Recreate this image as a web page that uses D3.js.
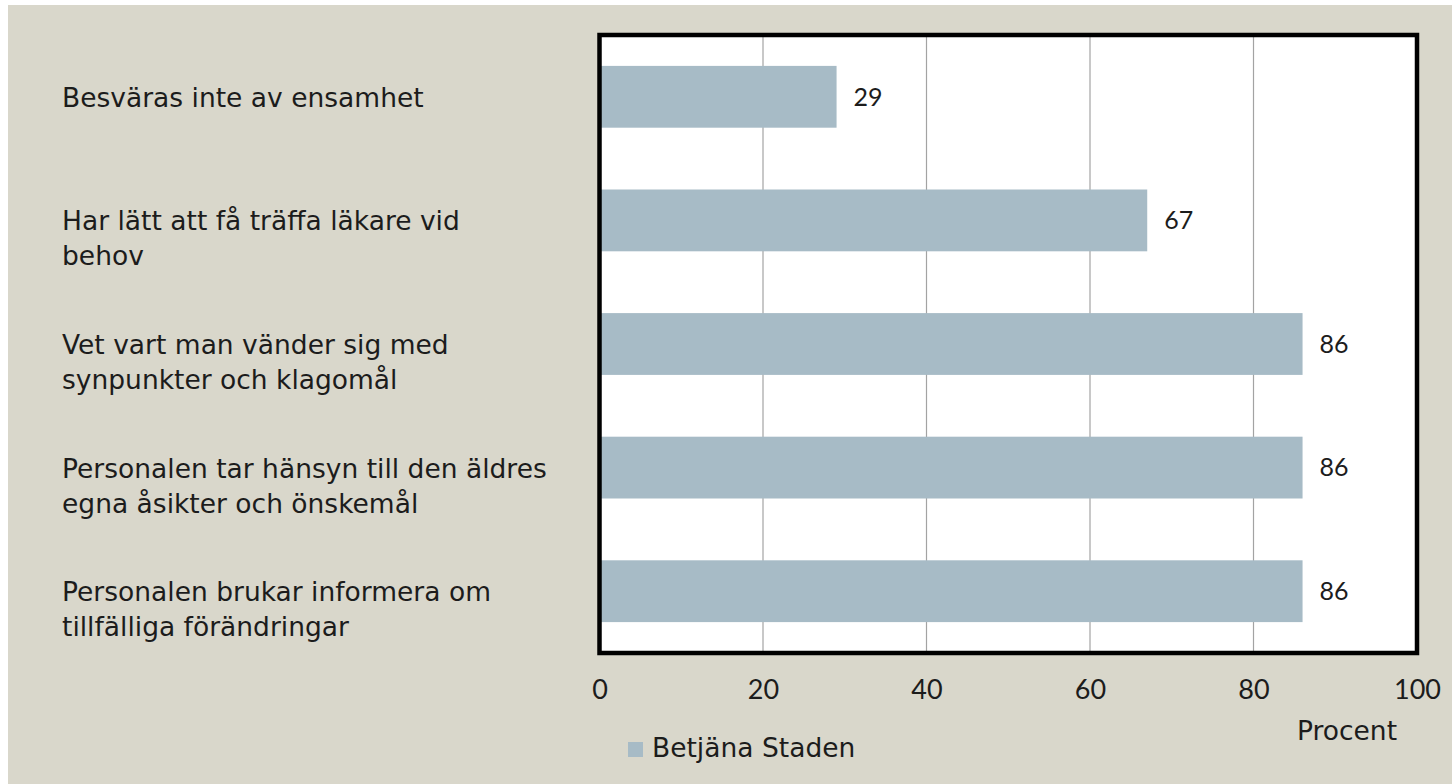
<!DOCTYPE html>
<html>
<head>
<meta charset="utf-8">
<script src="https://cdn.jsdelivr.net/npm/d3@7"></script>
<style>
  html, body { margin: 0; padding: 0; background: #ffffff; }
  svg { display: block; }
  text { fill: #1c1c1c; }
</style>
</head>
<body>
<script>
const categories = [
  ["Besväras inte av ensamhet"],
  ["Har lätt att få träffa läkare vid", "behov"],
  ["Vet vart man vänder sig med", "synpunkter och klagomål"],
  ["Personalen tar hänsyn till den äldres", "egna åsikter och önskemål"],
  ["Personalen brukar informera om", "tillfälliga förändringar"]
];
const values = [29, 67, 86, 86, 86];
const xTicks = [0, 20, 40, 60, 80, 100];
const seriesName = "Betjäna Staden";
const axisTitle = "Procent";

const textFont = "'DejaVu Sans', sans-serif";
const numFont = "Lato, 'Open Sans', sans-serif";

const W = 1452, H = 784;
const svg = d3.select("body").append("svg").attr("width", W).attr("height", H);

// background
svg.append("rect").attr("x", 8).attr("y", 5).attr("width", W - 8).attr("height", H - 5).attr("fill", "#d9d7cb");

const plot = { left: 599.5, right: 1417, top: 35, bottom: 653 };
const x = d3.scaleLinear().domain([0, 100]).range([plot.left, plot.right]);
const y = d3.scaleBand().domain(d3.range(categories.length)).range([plot.top, plot.bottom]).paddingInner(0.5).paddingOuter(0.25);

svg.append("rect").attr("x", plot.left).attr("y", plot.top)
  .attr("width", plot.right - plot.left).attr("height", plot.bottom - plot.top)
  .attr("fill", "#ffffff");

// gridlines
svg.append("g").selectAll("line").data(xTicks.filter(t => t > 0 && t < 100)).join("line")
  .attr("x1", d => x(d)).attr("x2", d => x(d))
  .attr("y1", plot.top).attr("y2", plot.bottom)
  .attr("stroke", "#a3a3a3").attr("stroke-width", 1.2);

// bars
svg.append("g").selectAll("rect").data(values).join("rect")
  .attr("x", x(0)).attr("y", (d, i) => y(i))
  .attr("width", d => x(d) - x(0)).attr("height", y.bandwidth())
  .attr("fill", "#a7bbc6");

// value labels
svg.append("g").selectAll("text").data(values).join("text")
  .attr("x", d => x(d) + 17).attr("y", (d, i) => y(i) + y.bandwidth() / 2)
  .attr("dy", "0.35em").attr("font-size", 25).attr("font-family", numFont).text(d => d);

// frame
svg.append("rect").attr("x", plot.left).attr("y", plot.top)
  .attr("width", plot.right - plot.left).attr("height", plot.bottom - plot.top)
  .attr("fill", "none").attr("stroke", "#000").attr("stroke-width", 4.5);

// x axis
const xAxis = d3.axisBottom(x).tickValues(xTicks).tickSize(0).tickPadding(0);
const gx = svg.append("g").attr("transform", `translate(0,${plot.bottom})`).call(xAxis);
gx.select(".domain").remove();
gx.selectAll("text").attr("font-size", 27).attr("fill", "#1c1c1c")
  .attr("font-family", numFont).attr("dy", null).attr("y", 46);

svg.append("text").attr("x", 1347).attr("y", 740).attr("text-anchor", "middle")
  .attr("font-family", textFont).attr("font-size", 26.5).text(axisTitle);

// category labels
const lab = svg.append("g").selectAll("text").data(categories).join("text")
  .attr("x", 62).attr("y", (d, i) => y(i) + y.bandwidth() / 2 + 10)
  .attr("font-family", textFont).attr("font-size", 26.5);
lab.selectAll("tspan").data(d => d).join("tspan")
  .attr("x", 62).attr("dy", (d, j) => j === 0 ? 0 : 35).text(d => d);

// legend
svg.append("rect").attr("x", 628).attr("y", 742).attr("width", 15).attr("height", 15).attr("fill", "#a7bbc6");
svg.append("text").attr("x", 652).attr("y", 757).attr("font-family", textFont).attr("font-size", 26.5).text(seriesName);
</script>
</body>
</html>
